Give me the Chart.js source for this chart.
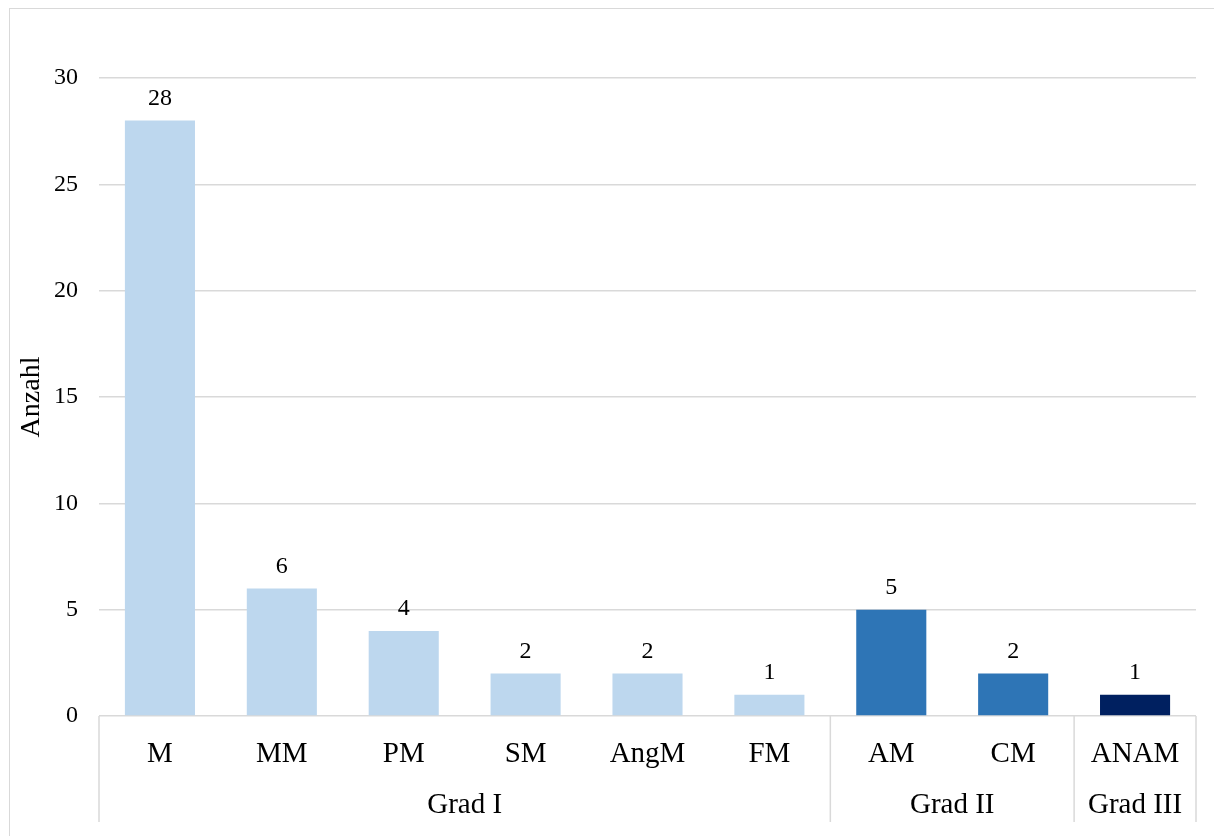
<!DOCTYPE html>
<html>
<head>
<meta charset="utf-8">
<script src="https://cdn.jsdelivr.net/npm/chart.js@4/dist/chart.umd.min.js"></script>
<style>
  html, body { margin: 0; padding: 0; background: #fff; overflow: hidden; }
  #frame {
    position: absolute; left: 9px; top: 8px; width: 1240px; height: 860px;
    border: 1.5px solid #d9d9d9; box-sizing: border-box;
  }
  #wrap { position: absolute; left: 0; top: 0; width: 1214px; height: 836px; }
</style>
</head>
<body>
<div id="frame"></div>
<div id="wrap"><canvas id="c" width="1214" height="836"></canvas></div>
<script>
// Melanom-Subtypen, gruppiert nach Grad
const categories = ['M', 'MM', 'PM', 'SM', 'AngM', 'FM', 'AM', 'CM', 'ANAM'];
const counts     = [28, 6, 4, 2, 2, 1, 5, 2, 1];
const groupNames = ['Grad I', 'Grad II', 'Grad III'];
const groupSizes = [6, 2, 1];
const groupColors = ['#bdd7ee', '#2e75b6', '#002060'];
const yTicks = [0, 5, 10, 15, 20, 25, 30];

const SERIF = "'Liberation Serif', 'Times New Roman', serif";
const LINE = '#d9d9d9';

// colour of each bar follows its group
const barColors = [];
groupSizes.forEach((n, g) => { for (let i = 0; i < n; i++) barColors.push(groupColors[g]); });

// value labels above bars, group row and separators below the category row
const extras = {
  id: 'extras',
  afterDatasetsDraw(chart) {
    const ctx = chart.ctx;
    const meta = chart.getDatasetMeta(0);
    ctx.save();
    ctx.fillStyle = '#000';
    ctx.font = '24px ' + SERIF;
    ctx.textAlign = 'center';
    ctx.textBaseline = 'middle';
    meta.data.forEach((bar, i) => {
      ctx.fillText(String(counts[i]), bar.x, bar.y - 22);
    });
    ctx.restore();
  },
  afterDraw(chart) {
    const ctx = chart.ctx;
    const x = chart.scales.x;
    const top = chart.chartArea.bottom;
    const bottom = 822;
    const half = (x.getPixelForTick(1) - x.getPixelForTick(0)) / 2;
    ctx.save();
    ctx.strokeStyle = LINE;
    ctx.lineWidth = 1.5;
    const edges = [x.getPixelForTick(0) - half];
    let start = 0;
    ctx.fillStyle = '#000';
    ctx.font = '29px ' + SERIF;
    ctx.textAlign = 'center';
    ctx.textBaseline = 'middle';
    groupSizes.forEach((n, g) => {
      const left = x.getPixelForTick(start) - half;
      const right = x.getPixelForTick(start + n - 1) + half;
      edges.push(right);
      ctx.fillText(groupNames[g], (left + right) / 2, 805);
      start += n;
    });
    edges.forEach(px => {
      ctx.beginPath();
      ctx.moveTo(px, top);
      ctx.lineTo(px, bottom);
      ctx.stroke();
    });
    ctx.restore();
  }
};

new Chart(document.getElementById('c'), {
  type: 'bar',
  data: {
    labels: categories,
    datasets: [{
      data: counts,
      backgroundColor: barColors,
      borderWidth: 0,
      barPercentage: 0.575,
      categoryPercentage: 1
    }]
  },
  options: {
    responsive: false,
    animation: false,
    devicePixelRatio: 1,
    layout: { padding: { left: 0, right: 18, top: 78, bottom: 0 } },
    plugins: { legend: { display: false }, tooltip: { enabled: false } },
    scales: {
      x: {
        grid: { display: false },
        border: { display: false },
        ticks: {
          color: '#000',
          font: { family: SERIF, size: 29 },
          padding: 13,
          maxRotation: 0,
          autoSkip: false
        },
        afterFit(scale) { scale.height = 120; }
      },
      y: {
        min: 0,
        max: 30,
        afterBuildTicks(scale) { scale.ticks = yTicks.map(v => ({ value: v })); },
        grid: { color: LINE, lineWidth: 1.5, drawTicks: false },
        border: { display: false },
        ticks: {
          color: '#000',
          font: { family: SERIF, size: 24 },
          padding: 21
        },
        title: {
          display: true,
          text: 'Anzahl',
          color: '#000',
          font: { family: SERIF, size: 28 },
          padding: { top: 15, bottom: 0 }
        },
        afterFit(scale) { scale.width = 99; }
      }
    }
  },
  plugins: [extras]
});
</script>
</body>
</html>
